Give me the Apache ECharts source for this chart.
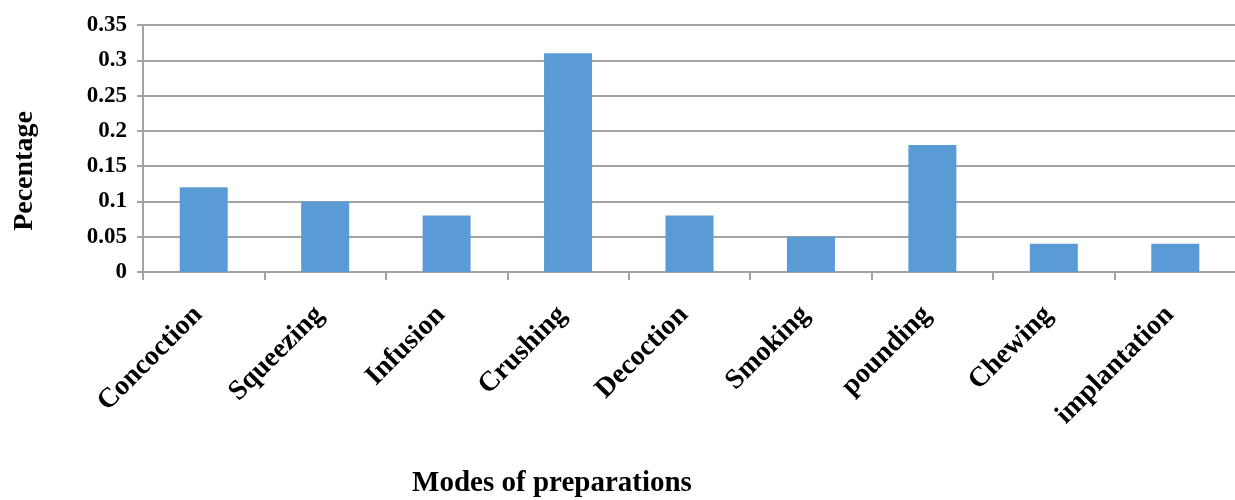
<!DOCTYPE html>
<html>
<head>
<meta charset="utf-8">
<script src="https://cdn.jsdelivr.net/npm/echarts@6/dist/echarts.min.js"></script>
<style>
  html, body { margin: 0; padding: 0; background: #fff; }
  #chart { width: 1235px; height: 500px; }
</style>
</head>
<body>
<div id="chart"></div>
<script>
// data
const categories = ['Concoction', 'Squeezing', 'Infusion', 'Crushing', 'Decoction', 'Smoking', 'pounding', 'Chewing', 'implantation'];
const percentages = [0.12, 0.10, 0.08, 0.31, 0.08, 0.05, 0.18, 0.04, 0.04];
const yTicks = [0, 0.05, 0.1, 0.15, 0.2, 0.25, 0.3, 0.35];

// styles
const fontFamily = '"Liberation Serif", "Times New Roman", serif';
const gridColor = '#a3a3a3';
const barColor = '#5b9bd5';

const chart = echarts.init(document.getElementById('chart'));
chart.setOption({
  animation: false,
  grid: {
    left: 143,
    top: 25,
    width: 1093,
    bottom: 228,
    outerBoundsMode: 'none'
  },
  xAxis: {
    type: 'category',
    data: categories,
    axisLine: { lineStyle: { color: gridColor, width: 2 } },
    axisTick: { show: true, length: 8, lineStyle: { color: gridColor, width: 2 } },
    axisLabel: {
      rotate: 45,
      margin: 33,
      padding: [0, 8, 0, 0],
      interval: 0,
      color: '#000',
      fontFamily: fontFamily,
      fontWeight: 'bold',
      fontSize: 28
    }
  },
  yAxis: {
    type: 'value',
    min: yTicks[0],
    max: yTicks[yTicks.length - 1],
    interval: 0.05,
    axisLine: { show: true, lineStyle: { color: gridColor, width: 2 } },
    axisTick: { show: true, length: 6, lineStyle: { color: gridColor, width: 2 } },
    axisLabel: {
      margin: 16,
      color: '#000',
      fontFamily: fontFamily,
      fontWeight: 'bold',
      fontSize: 23
    },
    splitLine: { lineStyle: { color: gridColor, width: 2 } }
  },
  graphic: [
    {
      type: 'text',
      x: 25,
      y: 171,
      rotation: Math.PI / 2,
      style: {
        text: 'Pecentage',
        fill: '#000',
        font: 'bold 28px ' + fontFamily,
        align: 'center',
        verticalAlign: 'middle'
      }
    },
    {
      type: 'text',
      x: 552,
      y: 484,
      style: {
        text: 'Modes of preparations',
        fill: '#000',
        font: 'bold 29px ' + fontFamily,
        align: 'center',
        verticalAlign: 'middle'
      }
    }
  ],
  series: [
    {
      type: 'bar',
      data: percentages,
      barWidth: 48,
      itemStyle: { color: barColor }
    }
  ]
});
</script>
</body>
</html>
